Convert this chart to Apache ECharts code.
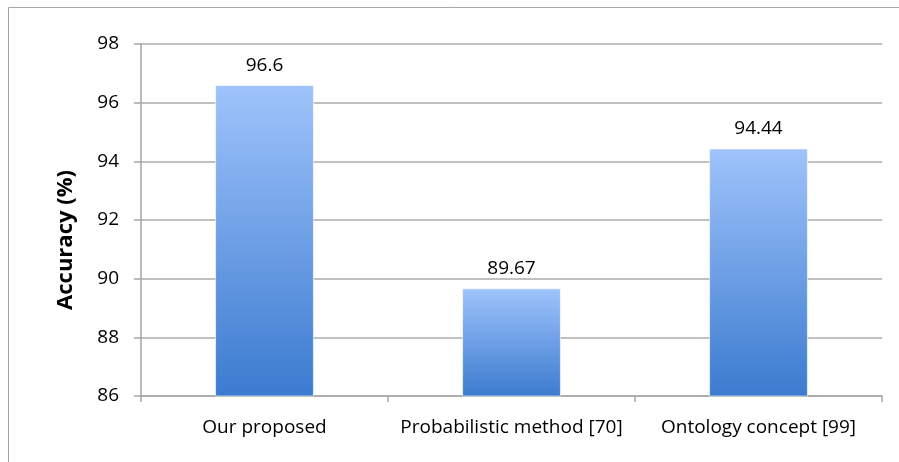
<!DOCTYPE html>
<html>
<head>
<meta charset="utf-8">
<script src="https://cdn.jsdelivr.net/npm/echarts@6/dist/echarts.min.js"></script>
<style>
  html, body { margin: 0; padding: 0; background: #fff; }
  #chart { width: 899px; height: 462px; }
</style>
</head>
<body>
<div id="chart"></div>
<script>
// Methods compared and their accuracy scores
const categories = ['Our proposed', 'Probabilistic method [70]', 'Ontology concept [99]'];
const accuracy = [96.6, 89.67, 94.44];
const yTicks = { min: 86, max: 98, step: 2 };
const yTitle = 'Accuracy (%)';

const font = '"Open Sans", "Noto Sans", sans-serif';
const chart = echarts.init(document.getElementById('chart'), null, { renderer: 'canvas' });

chart.setOption({
  animation: false,
  backgroundColor: '#ffffff',
  graphic: [
    {
      type: 'rect',
      shape: { x: 8.5, y: 7.5, width: 1000, height: 1000 },
      style: { fill: 'none', stroke: '#a6a6a6', lineWidth: 1 },
      silent: true
    },
    {
      type: 'text',
      x: 66, y: 240,
      rotation: Math.PI / 2,
      style: {
        text: yTitle,
        font: 'bold 22px ' + font,
        fill: '#000',
        align: 'center',
        verticalAlign: 'middle'
      }
    }
  ],
  grid: { left: 141, right: 17, top: 44, bottom: 66 },
  xAxis: {
    type: 'category',
    data: categories,
    axisLine: { lineStyle: { color: '#a6a6a6', width: 1.5 } },
    axisTick: { show: true, length: 6, lineStyle: { color: '#a6a6a6', width: 1.5 } },
    axisLabel: { color: '#000', fontFamily: font, fontSize: 19, margin: 22, interval: 0 }
  },
  yAxis: {
    type: 'value',
    min: yTicks.min,
    max: yTicks.max,
    interval: yTicks.step,
    axisLine: { show: true, lineStyle: { color: '#a6a6a6', width: 1.5 } },
    axisTick: { show: true, length: 7, lineStyle: { color: '#a6a6a6', width: 1.5 } },
    axisLabel: { color: '#000', fontFamily: font, fontSize: 19, margin: 22 },
    splitLine: { show: true, lineStyle: { color: '#ababab', width: 1.5 } }
  },
  series: [{
    type: 'bar',
    data: accuracy,
    barWidth: '40%',
    itemStyle: {
      color: new echarts.graphic.LinearGradient(0, 0, 0, 1, [
        { offset: 0, color: '#9fc3fb' },
        { offset: 1, color: '#3b7bcf' }
      ]),
      borderColor: 'rgba(255,255,255,0.6)',
      borderWidth: 1
    },
    label: {
      show: true,
      position: 'top',
      distance: 10,
      color: '#000',
      fontFamily: font,
      fontSize: 19
    }
  }]
});
</script>
</body>
</html>
